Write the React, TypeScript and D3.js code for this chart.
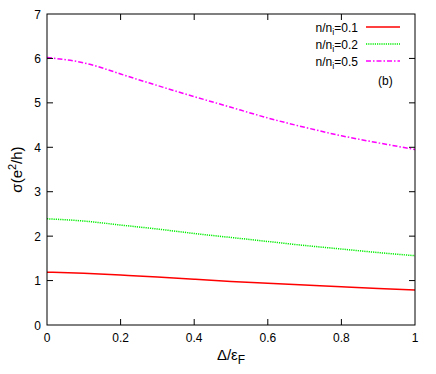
import React, { useEffect, useRef } from 'react';
import * as d3 from 'd3';

// x values (Δ/εF)
const deltaValues = [0, 0.1, 0.2, 0.3, 0.4, 0.5, 0.6, 0.7, 0.8, 0.9, 1.0];
// σ for each density ratio
const sigma01 = [1.19, 1.165, 1.125, 1.08, 1.03, 0.98, 0.94, 0.9, 0.86, 0.82, 0.79];
const sigma02 = [2.39, 2.34, 2.25, 2.16, 2.06, 1.97, 1.88, 1.79, 1.71, 1.63, 1.56];
const sigma05 = [6.02, 5.9, 5.65, 5.39, 5.14, 4.9, 4.66, 4.45, 4.26, 4.1, 3.95];
const seriesLabels = ['0.1', '0.2', '0.5'];
const xTicks = [0, 0.2, 0.4, 0.6, 0.8, 1];
const yTicks = [0, 1, 2, 3, 4, 5, 6, 7];

const W = 436;
const H = 374;
const margin = { left: 47, right: 21, top: 14, bottom: 49 };
const FONT = '"Liberation Sans", Arial, sans-serif';

const App = () => {
    const svgRef = useRef<SVGSVGElement>(null);

    useEffect(() => {
        const svg = d3.select(svgRef.current);
        svg.selectAll('*').remove();

        const x = d3.scaleLinear().domain([0, 1]).range([margin.left, W - margin.right]);
        const y = d3.scaleLinear().domain([0, 7]).range([H - margin.bottom, margin.top]);
        const tl = 6;

        // 曲线
        const series = [
            { vals: sigma01, color: '#ff0000', dash: null, width: 1.5 },
            { vals: sigma02, color: '#00ee00', dash: '1.2,1', width: 1.5 },
            { vals: sigma05, color: '#ff00ff', dash: '5,2,1.5,2', width: 1.5 },
        ];
        const line = d3
            .line<number>()
            .x((d, i) => x(deltaValues[i]))
            .y(d => y(d))
            .curve(d3.curveNatural);

        series.forEach(s => {
            svg
                .append('path')
                .datum(s.vals)
                .attr('d', line)
                .attr('fill', 'none')
                .attr('stroke', s.color)
                .attr('stroke-width', s.width)
                .attr('stroke-dasharray', s.dash);
        });

        // 边框和刻度
        const x0 = x(0), x1 = x(1), y0 = y(0), y1 = y(7);
        const axes = svg.append('g').attr('stroke', '#000').attr('stroke-width', 1);
        xTicks.forEach(t => {
            if (t === 0 || t === 1) return;
            axes.append('line').attr('x1', x(t)).attr('x2', x(t)).attr('y1', y0).attr('y2', y0 - tl);
            axes.append('line').attr('x1', x(t)).attr('x2', x(t)).attr('y1', y1).attr('y2', y1 + tl);
        });
        yTicks.forEach(t => {
            if (t === 0 || t === 7) return;
            axes.append('line').attr('x1', x0).attr('x2', x0 + tl).attr('y1', y(t)).attr('y2', y(t));
            axes.append('line').attr('x1', x1).attr('x2', x1 - tl).attr('y1', y(t)).attr('y2', y(t));
        });
        axes
            .append('rect')
            .attr('x', x0)
            .attr('y', y1)
            .attr('width', x1 - x0)
            .attr('height', y0 - y1)
            .attr('fill', 'none');

        const txt = svg.append('g').attr('font-family', FONT).attr('font-size', 12).attr('fill', '#000');
        xTicks.forEach(t => {
            txt.append('text').attr('x', x(t)).attr('y', y0 + 17).attr('text-anchor', 'middle').text(String(t));
        });
        yTicks.forEach(t => {
            txt.append('text').attr('x', x0 - 6).attr('y', y(t) + 4.5).attr('text-anchor', 'end').text(String(t));
        });

        // x 轴标题
        const xl = txt
            .append('text')
            .attr('x', x(0.5))
            .attr('y', 360)
            .attr('text-anchor', 'middle')
            .attr('font-size', 15);
        xl.append('tspan').text('Δ/ε');
        xl.append('tspan').attr('font-size', 12).attr('dy', 4).text('F');

        // y 轴标题
        const yl = txt
            .append('text')
            .attr('transform', `translate(22, ${y(3.5)}) rotate(-90)`)
            .attr('text-anchor', 'middle')
            .attr('font-size', 15);
        yl.append('tspan').text('σ(e');
        yl.append('tspan').attr('font-size', 11).attr('dy', -6).text('2');
        yl.append('tspan').attr('dy', 6).text('/h)');

        // 图例
        const legendY = [27, 44, 61];
        series.forEach((s, i) => {
            const t = txt.append('text').attr('x', 358).attr('y', legendY[i] + 4.5).attr('text-anchor', 'end');
            t.append('tspan').text('n/n');
            t.append('tspan').attr('font-size', 9).attr('dy', 3).text('i');
            t.append('tspan').attr('dy', -3).text('=' + seriesLabels[i]);
            svg
                .append('line')
                .attr('x1', 366)
                .attr('x2', 400)
                .attr('y1', legendY[i])
                .attr('y2', legendY[i])
                .attr('stroke', s.color)
                .attr('stroke-width', s.width)
                .attr('stroke-dasharray', s.dash);
        });
        txt.append('text').attr('x', 378).attr('y', 85).text('(b)');
    }, []);

    return (
        <svg ref={svgRef} width={W} height={H} style={{ position: 'absolute', left: 0, top: 0 }} />
    );
};

export default App;
